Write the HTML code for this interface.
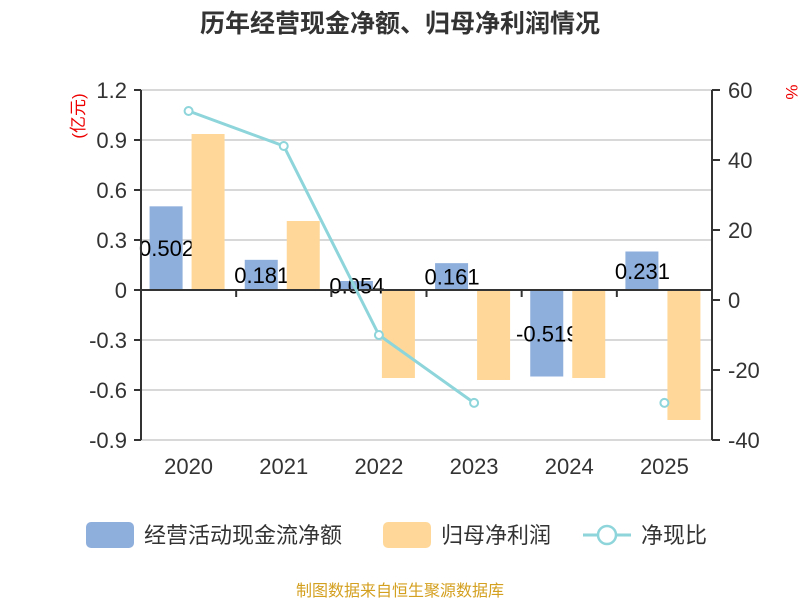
<!DOCTYPE html>
<html><head><meta charset="utf-8"><style>
body{margin:0;background:#fff}
svg{font-family:"Liberation Sans","Noto Sans CJK SC",sans-serif;display:block}
</style></head><body>
<svg id="c" width="800" height="600" viewBox="0 0 800 600">
<text x="400" y="32" text-anchor="middle" font-size="25" font-weight="bold" fill="#333">历年经营现金净额、归母净利润情况</text>
<text transform="translate(84,116) rotate(-90)" text-anchor="middle" font-size="17" fill="#e00">(亿元)</text>
<text transform="translate(786,92) rotate(90)" text-anchor="middle" font-size="17" fill="#e00">%</text>
<g id="grid"></g><g id="blue"></g><g id="labels"></g><g id="orange"></g><g id="axes"></g><g id="line"></g>
<g>
<rect x="86" y="522" width="48" height="26" rx="5" fill="#8eaedc"/>
<text x="144" y="543" font-size="22" fill="#333">经营活动现金流净额</text>
<rect x="383" y="522" width="48" height="26" rx="5" fill="#ffd899"/>
<text x="441" y="543" font-size="22" fill="#333">归母净利润</text>
<line x1="583" y1="535" x2="631" y2="535" stroke="#8dd5da" stroke-width="3"/>
<circle cx="607" cy="535" r="9" fill="#fff" stroke="#8dd5da" stroke-width="2.5"/>
<text x="641" y="543" font-size="22" fill="#333">净现比</text>
</g>
<text x="400" y="596" text-anchor="middle" font-size="16" fill="#d4a020">制图数据来自恒生聚源数据库</text>
</svg>
<script>
const categories=["2020","2021","2022","2023","2024","2025"];
const cashflow=[0.502,0.181,0.054,0.161,-0.519,0.231];
const profit=[0.936,0.414,-0.528,-0.54,-0.528,-0.78];
const ratio=[54,44,-10,-29.4,null,-29.4];
const leftTicks=[1.2,0.9,0.6,0.3,0,-0.3,-0.6,-0.9];
const rightTicks=[60,40,20,0,-20,-40];
const NS="http://www.w3.org/2000/svg";
const X0=141,X1=712,T=90,B=440;
const yL=v=>T+(1.2-v)*(B-T)/2.1;
const yR=v=>T+(60-v)*(B-T)/100;
const bw=(X1-X0)/categories.length;
const xc=i=>X0+bw*(i+0.5);
function mk(p,tag,at){const e=document.createElementNS(NS,tag);for(const k in at)e.setAttribute(k,at[k]);document.getElementById(p).appendChild(e);return e;}
leftTicks.forEach(v=>{
 const l=mk('grid','line',{x1:X0,x2:X1,y1:yL(v),y2:yL(v),stroke:'#ccc','stroke-width':1.5});
 
 
 const t=mk('axes','text',{x:X0-14,y:yL(v)+8,'text-anchor':'end','font-size':22,fill:'#333'});
 t.textContent=v;
 
 
 mk('axes','line',{x1:X0-7,x2:X0,y1:yL(v),y2:yL(v),stroke:'#333','stroke-width':2});
});
rightTicks.forEach(v=>{
 mk('axes','line',{x1:X1,x2:X1+8,y1:yR(v),y2:yR(v),stroke:'#333','stroke-width':2});
 const t=mk('axes','text',{x:X1+16,y:yR(v)+8,'font-size':22,fill:'#333'});
 t.textContent=v;
 
 
});
mk('axes','line',{x1:X0,x2:X0,y1:T,y2:B,stroke:'#333','stroke-width':2});
mk('axes','line',{x1:X1,x2:X1,y1:T,y2:B,stroke:'#333','stroke-width':2});
mk('axes','line',{x1:X0,x2:X1,y1:yL(0),y2:yL(0),stroke:'#333','stroke-width':2});
categories.forEach((c,i)=>{
 mk('axes','line',{x1:X0+bw*i,x2:X0+bw*i,y1:yL(0),y2:yL(0)+7,stroke:'#333','stroke-width':2});
 const t=mk('axes','text',{x:xc(i),y:474,'text-anchor':'middle','font-size':22,fill:'#333'});
 t.textContent=c;
 
 
 const v=cashflow[i],y0=yL(0),y1=yL(v);
 const b=mk('blue','rect',{x:xc(i)-39,y:Math.min(y0,y1),width:33,height:Math.abs(y1-y0),fill:'#8eaedc'});
 
 
 const l=mk('labels','text',{x:xc(i)-22,y:(y0+y1)/2+8,'text-anchor':'middle','font-size':22,fill:'#000'});
 l.textContent=v;
 
 
 const p=profit[i],p1=yL(p);
 const o=mk('orange','rect',{x:xc(i)+3,y:Math.min(y0,p1),width:33,height:Math.abs(p1-y0),fill:'#ffd899'});
 
 
});
let seg=[];
const segs=[];
ratio.forEach((v,i)=>{if(v===null){if(seg.length)segs.push(seg);seg=[];}else seg.push([xc(i),yR(v)]);});
if(seg.length)segs.push(seg);
segs.forEach(s=>{if(s.length>1){const pl=mk('line','polyline',{points:s.map(p=>p.join(',')).join(' '),fill:'none',stroke:'#8dd5da','stroke-width':3});
 
 }});
ratio.forEach((v,i)=>{if(v===null)return;
 const c=mk('line','circle',{cx:xc(i),cy:yR(v),r:4,fill:'#fff',stroke:'#8dd5da','stroke-width':2});
 
 
});
</script>
</body></html>
